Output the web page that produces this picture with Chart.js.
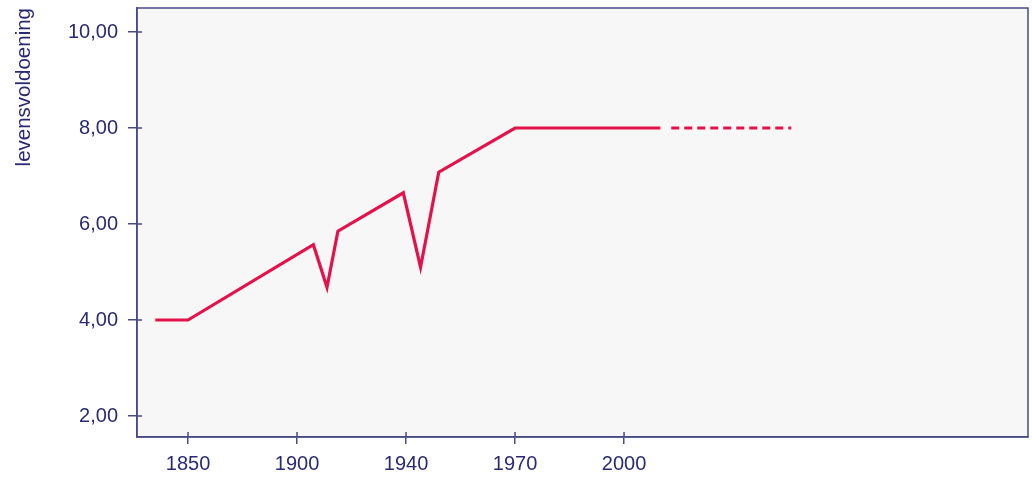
<!DOCTYPE html>
<html>
<head>
<meta charset="utf-8">
<script src="https://cdn.jsdelivr.net/npm/chart.js@4/dist/chart.umd.min.js"></script>
<style>
  html, body { margin: 0; padding: 0; background: #ffffff; }
  #wrap { width: 1032px; height: 478px; position: relative; }
</style>
</head>
<body>
<div id="wrap"><canvas id="c" width="1032" height="478"></canvas></div>
<script>
// ---- data ----
const tickYears = [1850, 1900, 1940, 1970, 2000];
const years = [1835, 1850, 1906, 1911, 1915, 1939, 1944, 1949, 1970, 2010];
const values = [4.0, 4.0, 5.57, 4.68, 5.85, 6.65, 5.1, 7.08, 8.0, 8.0];
const forecastYears = [2013, 2046];
const forecastValues = [8.0, 8.0];
const yTicks = [2, 4, 6, 8, 10];
const yTitle = 'levensvoldoening';

// The axis spaces its year labels evenly; map a year onto that axis piecewise.
function yearToPos(y) {
  const n = tickYears.length;
  let i = 0;
  if (y <= tickYears[0]) i = 0;
  else if (y >= tickYears[n - 1]) i = n - 2;
  else { while (i < n - 2 && y > tickYears[i + 1]) i++; }
  return i + (y - tickYears[i]) / (tickYears[i + 1] - tickYears[i]);
}
const mainPts = years.map((y, i) => ({ x: yearToPos(y), y: values[i] }));
const forecastPts = forecastYears.map((y, i) => ({ x: yearToPos(y), y: forecastValues[i] }));

const textColor = '#2a2a72';
const axisColor = '#4a4a86';
const lineColor = '#e3124b';
const font = 'Liberation Sans, Arial, Helvetica, sans-serif';

const plotFrame = {
  id: 'plotFrame',
  beforeDraw(chart) {
    const a = chart.chartArea, ctx = chart.ctx;
    ctx.save();
    ctx.fillStyle = '#f7f7f7';
    ctx.fillRect(a.left, a.top, a.right - a.left, a.bottom - a.top);
    ctx.restore();
  },
  afterDraw(chart) {
    const a = chart.chartArea, ctx = chart.ctx;
    ctx.save();
    ctx.strokeStyle = axisColor;
    ctx.lineWidth = 1.5;
    ctx.strokeRect(a.left, a.top, a.right - a.left, a.bottom - a.top);
    // short inner part of the tick marks (ticks cross the axis line)
    ctx.beginPath();
    chart.scales.y.ticks.forEach(t => {
      const p = chart.scales.y.getPixelForValue(t.value);
      ctx.moveTo(a.left, p); ctx.lineTo(a.left + 5, p);
    });
    chart.scales.x.ticks.forEach(t => {
      const p = chart.scales.x.getPixelForValue(t.value);
      ctx.moveTo(p, a.bottom); ctx.lineTo(p, a.bottom - 5);
    });
    ctx.stroke();
    ctx.restore();
  }
};

new Chart(document.getElementById('c'), {
  type: 'line',
  data: {
    datasets: [
      { data: mainPts, borderColor: lineColor, borderWidth: 3.2, pointRadius: 0, tension: 0, fill: false },
      { data: forecastPts, borderColor: lineColor, borderWidth: 3.2, borderDash: [8, 5], pointRadius: 0, tension: 0, fill: false }
    ]
  },
  options: {
    responsive: false,
    animation: false,
    layout: { padding: { top: 8, right: 4, left: 0, bottom: 0 } },
    plugins: { legend: { display: false }, tooltip: { enabled: false } },
    scales: {
      x: {
        type: 'linear',
        min: -0.468,
        max: 7.706,
        afterBuildTicks(scale) { scale.ticks = tickYears.map((_, i) => ({ value: i })); },
        afterFit(scale) { scale.height = 41; scale.paddingLeft = 0; scale.paddingRight = 0; },
        ticks: {
          color: textColor,
          font: { family: font, size: 20 },
          padding: 8,
          maxRotation: 0,
          autoSkip: false,
          callback: (v) => String(tickYears[v])
        },
        grid: { drawOnChartArea: false, drawTicks: true, tickLength: 7, color: axisColor, lineWidth: 1.5 },
        border: { display: true, color: axisColor, width: 1.5 }
      },
      y: {
        type: 'linear',
        min: 1.5625,
        max: 10.5,
        afterBuildTicks(scale) { scale.ticks = yTicks.map(v => ({ value: v })); },
        afterFit(scale) { scale.width = 137; scale.paddingTop = 0; scale.paddingBottom = 0; },
        ticks: {
          color: textColor,
          font: { family: font, size: 20 },
          padding: 10,
          autoSkip: false,
          callback: (v) => Number(v).toFixed(2).replace('.', ',')
        },
        grid: { drawOnChartArea: false, drawTicks: true, tickLength: 9, color: axisColor, lineWidth: 1.5 },
        border: { display: true, color: axisColor, width: 1.5 },
        title: {
          display: true,
          text: yTitle,
          align: 'end',
          color: textColor,
          font: { family: font, size: 20.5 },
          padding: { top: 12, bottom: 0 }
        }
      }
    }
  },
  plugins: [plotFrame]
});
</script>
</body>
</html>
